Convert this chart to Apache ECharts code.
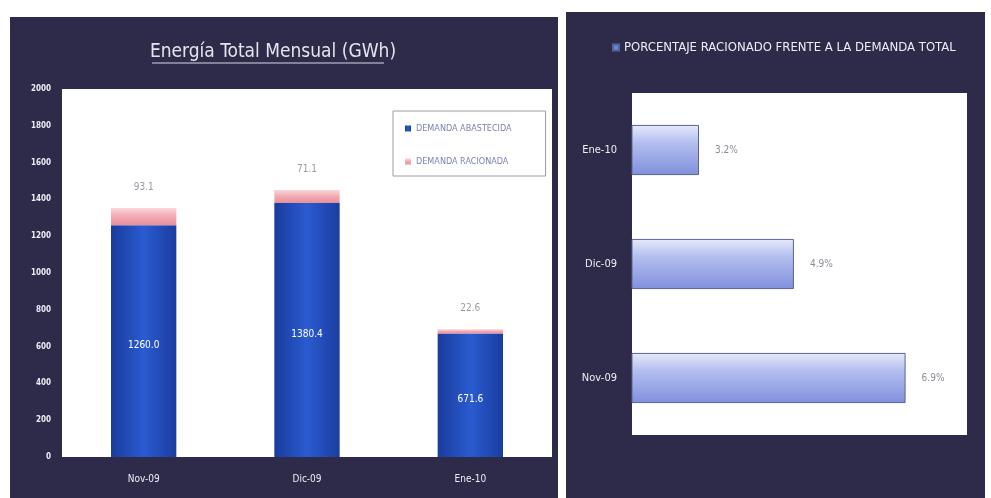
<!DOCTYPE html>
<html>
<head>
<meta charset="utf-8">
<script src="https://cdn.jsdelivr.net/npm/echarts@6/dist/echarts.min.js"></script>
<style>
  html, body { margin: 0; padding: 0; background: #ffffff; }
  #chart { width: 991px; height: 498px; }
</style>
</head>
<body>
<div id="chart"></div>
<script>
// Monthly energy (GWh): supplied vs. rationed demand
const months = ['Nov-09', 'Dic-09', 'Ene-10'];
const demandaAbastecida = [1260.0, 1380.4, 671.6];
const demandaRacionada = [93.1, 71.1, 22.6];
const energyTicks = [0, 200, 400, 600, 800, 1000, 1200, 1400, 1600, 1800, 2000];

// Share of total demand that was rationed (%)
const porcentajeRacionado = [6.9, 4.9, 3.2];

const FONT = '"Liberation Sans Narrow", "DejaVu Sans Condensed", "Liberation Sans", sans-serif';
const PANEL = '#2e2a4a';

const chart = echarts.init(document.getElementById('chart'), null, { renderer: 'canvas' });

const blueFill = new echarts.graphic.LinearGradient(0, 0, 1, 0, [
  { offset: 0, color: '#1a3b9c' },
  { offset: 0.5, color: '#2a5bd0' },
  { offset: 1, color: '#1b3da0' }
]);
const pinkFill = new echarts.graphic.LinearGradient(0, 0, 0, 1, [
  { offset: 0, color: '#f9d6da' },
  { offset: 0.5, color: '#f2aab2' },
  { offset: 1, color: '#e88f9a' }
]);
const lavenderFill = new echarts.graphic.LinearGradient(0, 0, 0, 1, [
  { offset: 0, color: '#e6eafa' },
  { offset: 0.35, color: '#b4bff0' },
  { offset: 1, color: '#8090dc' }
]);

const option = {
  animation: false,
  backgroundColor: '#ffffff',
  textStyle: { fontFamily: FONT },
  graphic: [
    { type: 'rect', z: -10, shape: { x: 10, y: 17, width: 548, height: 481 }, style: { fill: PANEL } },
    { type: 'rect', z: -10, shape: { x: 566, y: 12, width: 419, height: 486 }, style: { fill: PANEL } },
    { type: 'line', z: 10, shape: { x1: 152, y1: 63, x2: 384, y2: 63 }, style: { stroke: '#d8d8e4', lineWidth: 1 } }
  ],
  title: {
    text: 'Energía Total Mensual (GWh)',
    left: 268,
    top: 38,
    textAlign: 'center',
    textStyle: { color: '#e4e4ee', fontSize: 19, fontWeight: 'normal', fontFamily: FONT }
  },
  legend: [
    {
      data: ['DEMANDA ABASTECIDA', 'DEMANDA RACIONADA'],
      orient: 'vertical',
      left: 393,
      top: 111,
      padding: [13, 34, 10, 12],
      itemGap: 24,
      itemWidth: 6,
      itemHeight: 6,
      icon: 'rect',
      backgroundColor: '#ffffff',
      borderColor: '#9a9aa8',
      borderWidth: 1,
      textStyle: { fontSize: 9, color: '#7c80b8', fontFamily: FONT }
    },
    {
      data: [{ name: 'PORCENTAJE RACIONADO FRENTE A LA DEMANDA TOTAL', itemStyle: { color: '#5a8ae8' } }],
      left: 607,
      top: 36,
      itemWidth: 6,
      itemHeight: 6,
      itemGap: 4,
      icon: 'rect',
      textStyle: { fontSize: 13, color: '#eeeef6', fontFamily: FONT }
    }
  ],
  grid: [
    { left: 62, top: 89, width: 490, height: 368, show: true, backgroundColor: '#ffffff', borderWidth: 0 },
    { left: 632, top: 93, width: 335, height: 342, show: true, backgroundColor: '#ffffff', borderWidth: 0 }
  ],
  xAxis: [
    {
      type: 'category',
      gridIndex: 0,
      data: months,
      axisLine: { show: false },
      axisTick: { show: false },
      axisLabel: { color: '#eeeef6', fontSize: 10, margin: 17, fontFamily: FONT }
    },
    {
      type: 'value',
      gridIndex: 1,
      min: 2,
      max: 8,
      show: false,
      splitLine: { show: false }
    }
  ],
  yAxis: [
    {
      type: 'value',
      gridIndex: 0,
      min: 0,
      max: 2000,
      interval: 200,
      axisLine: { show: false },
      axisTick: { show: false },
      splitLine: { show: false },
      axisLabel: {
        color: '#eeeef6', fontSize: 8, fontWeight: 'bold', margin: 11, fontFamily: FONT,
        formatter: v => energyTicks.includes(v) ? String(v) : ''
      }
    },
    {
      type: 'category',
      gridIndex: 1,
      data: months,
      axisLine: { show: false },
      axisTick: { show: false },
      axisLabel: { color: '#eeeef6', fontSize: 11, margin: 15, fontFamily: FONT }
    }
  ],
  series: [
    {
      name: 'DEMANDA ABASTECIDA',
      type: 'bar',
      stack: 'energia',
      xAxisIndex: 0,
      yAxisIndex: 0,
      data: demandaAbastecida,
      barWidth: '40%',
      itemStyle: { color: blueFill },
      label: {
        show: true,
        position: 'inside',
        offset: [0, 4],
        color: '#ffffff',
        fontSize: 10,
        fontFamily: FONT,
        formatter: p => p.value.toFixed(1)
      }
    },
    {
      name: 'DEMANDA RACIONADA',
      type: 'bar',
      stack: 'energia',
      xAxisIndex: 0,
      yAxisIndex: 0,
      data: demandaRacionada,
      barWidth: '40%',
      itemStyle: { color: pinkFill },
      label: {
        show: true,
        position: 'top',
        distance: 16,
        color: '#9a9aa4',
        fontSize: 10,
        fontFamily: FONT,
        formatter: p => p.value.toFixed(1)
      }
    },
    {
      name: 'PORCENTAJE RACIONADO FRENTE A LA DEMANDA TOTAL',
      type: 'bar',
      xAxisIndex: 1,
      yAxisIndex: 1,
      data: porcentajeRacionado,
      barWidth: '44%',
      itemStyle: { color: lavenderFill, borderColor: '#5a6290', borderWidth: 1 },
      label: {
        show: true,
        position: 'right',
        distance: 16,
        color: '#8c8c98',
        fontSize: 10,
        fontFamily: FONT,
        formatter: p => p.value.toFixed(1) + '%'
      }
    }
  ]
};

chart.setOption(option);
</script>
</body>
</html>
